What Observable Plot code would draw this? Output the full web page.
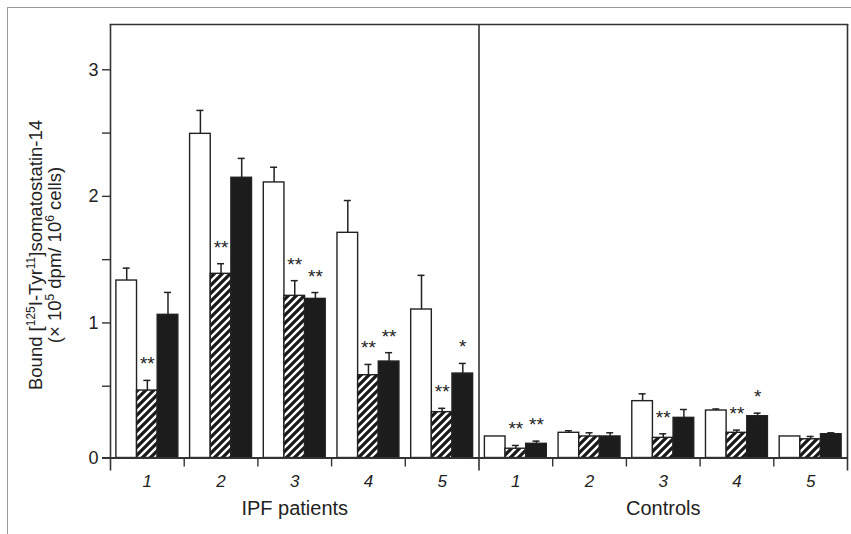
<!DOCTYPE html>
<html><head><meta charset="utf-8">
<script src="https://cdn.jsdelivr.net/npm/d3@7"></script>
<script src="https://cdn.jsdelivr.net/npm/@observablehq/plot@0.6"></script>
<style>
html,body{margin:0;padding:0;background:#fff;}
#wrap{position:relative;width:851px;height:534px;overflow:hidden;}
#chart{position:absolute;left:0;top:0;}
#border{position:absolute;left:7px;top:7px;width:900px;height:600px;border:1px solid #9a9a9a;pointer-events:none;z-index:2;}
</style></head><body>
<div id="wrap"><div id="chart"></div><div id="border"></div></div>
<svg width="0" height="0" style="position:absolute">
  <defs>
    <pattern id="hatch" patternUnits="userSpaceOnUse" width="8" height="8">
      <rect width="8" height="8" fill="#fff"/>
      <path d="M-2,2 L2,-2 M0,8 L8,0 M6,10 L10,6" stroke="#1a1a1a" stroke-width="3.3"/>
    </pattern>
  </defs>
</svg>
<script>
// ---- data ----
const cohorts = ["IPF patients", "Controls"];
const subjects = ["1", "2", "3", "4", "5"];
const treatments = ["open", "hatched", "solid"];

const ipfOpen       = [1.335, 2.494, 2.110, 1.712, 1.106];
const ipfOpenErr    = [0.098, 0.185, 0.120, 0.255, 0.270];
const ipfHatched    = [0.466, 1.388, 1.214, 0.587, 0.295];
const ipfHatchedErr = [0.080, 0.080, 0.120, 0.085, 0.030];
const ipfSolid      = [1.064, 2.147, 1.190, 0.695, 0.600];
const ipfSolidErr   = [0.177, 0.153, 0.050, 0.070, 0.080];

const ctlOpen       = [0.103, 0.132, 0.382, 0.308, 0.103];
const ctlOpenErr    = [0.000, 0.016, 0.058, 0.012, 0.000];
const ctlHatched    = [0.006, 0.103, 0.092, 0.132, 0.081];
const ctlHatchedErr = [0.026, 0.029, 0.032, 0.021, 0.022];
const ctlSolid      = [0.045, 0.103, 0.250, 0.263, 0.121];
const ctlSolidErr   = [0.021, 0.029, 0.066, 0.024, 0.011];

const ipfHatchedStars = ["**", "**", "**", "**", "**"];
const ipfSolidStars   = ["", "", "**", "**", "*"];
const ctlHatchedStars = ["**", "", "**", "**", ""];
const ctlSolidStars   = ["**", "", "", "*", ""];

const yMajorTicks = [1, 2, 3];
const yMinorTicks = [0.5, 1.5, 2.5];
const yZeroTick = [0];

// ---- build table ----
const series = [
  [0, "open", ipfOpen, ipfOpenErr, null],
  [0, "hatched", ipfHatched, ipfHatchedErr, ipfHatchedStars],
  [0, "solid", ipfSolid, ipfSolidErr, ipfSolidStars],
  [1, "open", ctlOpen, ctlOpenErr, null],
  [1, "hatched", ctlHatched, ctlHatchedErr, ctlHatchedStars],
  [1, "solid", ctlSolid, ctlSolidErr, ctlSolidStars]
];
const rows = [];
for (const [c, t, vals, errs, stars] of series) {
  vals.forEach((v, i) => rows.push({
    group: c * subjects.length + i, treatment: t, value: v, err: errs[i], star: stars ? stars[i] : ""
  }));
}
const nGroups = cohorts.length * subjects.length;
const inner = d3.scaleBand().domain(treatments).range([0, 1]).paddingOuter(0.285).paddingInner(0);
const bx1 = d => d.group + inner(d.treatment);
const bx2 = d => d.group + inner(d.treatment) + inner.bandwidth();
const bxc = d => d.group + inner(d.treatment) + inner.bandwidth() / 2;
const fills = {open: "#ffffff", hatched: "url(#hatch)", solid: "#1c1c1c"};

const ink = "#333";
const font = "'Liberation Sans', Arial, Helvetica, sans-serif";

const plot = Plot.plot({
  width: 851,
  height: 534,
  marginLeft: 110,
  marginRight: 4,
  marginTop: 24,
  marginBottom: 76.5,
  style: {fontFamily: font, color: "#222", background: "transparent"},
  x: {type: "linear", domain: [0, nGroups]},
  y: {domain: [0, 3], range: [449, 69.3]},
  marks: [
    ...treatments.map(t => Plot.rectY(rows.filter(d => d.treatment === t), {
      x1: bx1, x2: bx2, y1: 0, y2: "value", insetBottom: -8.5,
      fill: fills[t], stroke: "#222", strokeWidth: 1.4
    })),
    // error bars
    Plot.ruleX(rows.filter(d => d.err > 0), {x: bxc, y1: "value", y2: d => d.value + d.err, stroke: "#222", strokeWidth: 1.5}),
    Plot.ruleY(rows.filter(d => d.err > 0), {y: d => d.value + d.err, x1: bxc, x2: bxc, insetLeft: -3.5, insetRight: -3.5, stroke: "#222", strokeWidth: 1.5}),
    // significance stars
    Plot.text(rows.filter(d => d.star), {x: bxc, y: d => d.value + d.err, text: "star", lineAnchor: "bottom", dy: -10, fontSize: 19, fill: "#222"}),
    // baseline (drawn zero line) extending left as the "0" tick
    Plot.ruleY(yZeroTick, {dy: 8.5, insetLeft: -8, stroke: ink, strokeWidth: 2}),
    // vertical frame lines: left axis, cohort divider, right edge
    Plot.ruleX([0, nGroups / 2, nGroups], {insetBottom: -13, stroke: ink, strokeWidth: 1.6}),
    Plot.frame({anchor: "top", stroke: ink, strokeWidth: 1.6}),
    // y axis
    Plot.axisY([...yMinorTicks, ...yMajorTicks], {label: null, tickSize: 8, tickPadding: 4, tickFormat: d => Number.isInteger(d) ? String(d) : "", fontSize: 18, stroke: ink, strokeWidth: 1.4}),
    Plot.axisY(yZeroTick, {label: null, tickSize: 0, tickPadding: 12, dy: 8.5, tickFormat: d => String(d), fontSize: 18}),
    // x axis: group separators, subject numbers, cohort names
    Plot.axisX(d3.range(1, nGroups).filter(i => i !== nGroups / 2), {label: null, tickSize: 9, tickFormat: () => "", stroke: ink, strokeWidth: 1.4}),
    Plot.axisX(d3.range(nGroups).map(i => i + 0.5), {label: null, tickSize: 0, tickPadding: 17, tickFormat: d => subjects[Math.floor(d) % subjects.length], fontSize: 17, fontStyle: "italic"}),
    Plot.axisX(cohorts.map((c, i) => (i + 0.5) * subjects.length), {label: null, tickSize: 0, tickPadding: 43, tickFormat: d => cohorts[Math.floor(d / subjects.length)], fontSize: 20})
  ]
});
document.getElementById("chart").appendChild(plot);

// y-axis title with superscripts
const svg = d3.select(plot);
function titleLine(x, parts) {
  const t = svg.append("text")
    .attr("transform", `translate(${x},255) rotate(-90)`)
    .attr("text-anchor", "middle")
    .attr("font-family", font)
    .attr("font-size", 18.5)
    .attr("fill", "#222");
  for (const [s, sup] of parts) {
    const ts = t.append("tspan").text(s);
    if (sup) ts.attr("font-size", 12).attr("baseline-shift", "super");
  }
}
titleLine(42, [["Bound [", false], ["125", true], ["I-Tyr", false], ["11", true], ["]somatostatin-14", false]]);
titleLine(61, [["(× 10", false], ["5", true], [" dpm/ 10", false], ["6", true], [" cells)", false]]);
</script>
</body></html>
